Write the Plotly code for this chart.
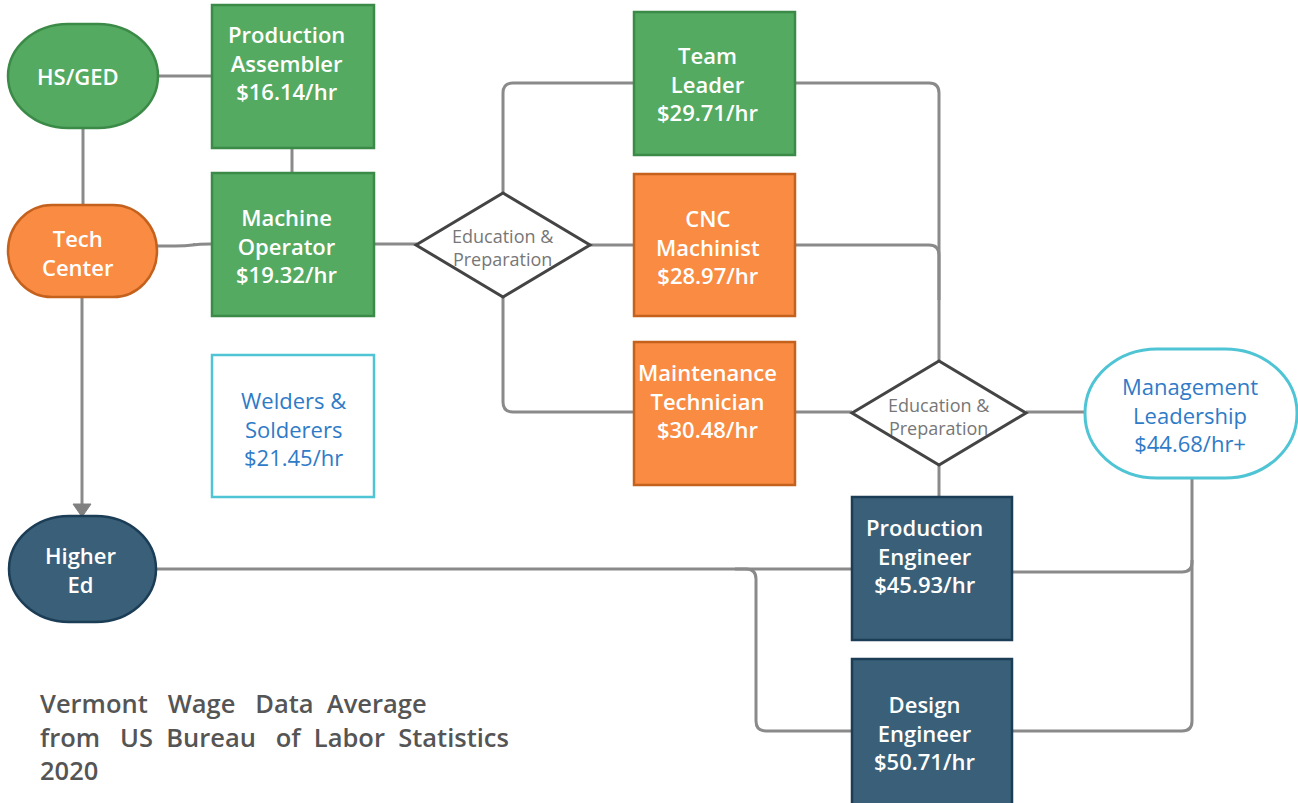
import plotly.graph_objects as go

# ---------------- data ----------------
roles = ["Production Assembler", "Machine Operator", "Welders & Solderers",
         "Team Leader", "CNC Machinist", "Maintenance Technician",
         "Management Leadership", "Production Engineer", "Design Engineer"]
role_lines = [["Production", "Assembler"], ["Machine", "Operator"], ["Welders &", "Solderers"],
              ["Team", "Leader"], ["CNC", "Machinist"], ["Maintenance", "Technician"],
              ["Management", "Leadership"], ["Production", "Engineer"], ["Design", "Engineer"]]
wages = ["$16.14/hr", "$19.32/hr", "$21.45/hr", "$29.71/hr", "$28.97/hr",
         "$30.48/hr", "$44.68/hr+", "$45.93/hr", "$50.71/hr"]
education = ["HS/GED", "Tech<br>Center", "Higher<br>Ed"]
decision_label = "Education &<br>Preparation"
NB = "\u00a0"
note_lines = [f"Vermont{NB*3}Wage{NB*3}Data{NB*2}Average",
              f"from{NB*3}US{NB*2}Bureau{NB*3}of{NB*2}Labor{NB*2}Statistics",
              "2020"]

# ---------------- layout geometry / styles ----------------
W, H = 1298, 803
GREEN, GREEN_B = "#55aa62", "#3b8a47"
ORANGE, ORANGE_B = "#f98b43", "#c4611d"
NAVY, NAVY_B = "#396078", "#1c3d56"
CYAN, BLUE_T = "#4fc4d4", "#2f7bc7"
LINE = "#8a8a8a"
FONT = "Open Sans"

# role boxes: (x0, y0, x1, y1, fill, border, text colour, text cx, text cy)
role_geo = [
    (212, 5, 374, 148, GREEN, GREEN_B, "white", 286, 62),
    (212, 173, 374, 316, GREEN, GREEN_B, "white", 286, 245),
    (212, 355, 374, 497, "white", CYAN, BLUE_T, 293, 428),
    (634, 12, 795, 155, GREEN, GREEN_B, "white", 707, 83),
    (634, 174, 795, 316, ORANGE, ORANGE_B, "white", 708, 246),
    (634, 342, 795, 485, ORANGE, ORANGE_B, "white", 707, 400),
    (1085, 349, 1297, 478, "white", CYAN, BLUE_T, 1190, 414),
    (852, 497, 1012, 640, NAVY, NAVY_B, "white", 924, 555),
    (852, 659, 1012, 806, NAVY, NAVY_B, "white", 924, 732),
]
role_round = [0, 0, 0, 0, 0, 0, (72, 64), 0, 0]

# education nodes: (x0, y0, x1, y1, rx, ry, fill, border, text cx, text cy)
edu_geo = [
    (8, 24, 158, 128, 60, 52, GREEN, GREEN_B, 78, 76),
    (8, 205, 157, 297, 44, 46, ORANGE, ORANGE_B, 78, 252),
    (9, 516, 156, 622, 60, 53, NAVY, NAVY_B, 81, 569),
]

# decision diamonds: (cx, cy, half-width, half-height, text cx, text cy)
diamond_geo = [(503, 245, 87, 52, 503, 247), (939, 413, 87, 52, 939, 416)]

K = 0.5523


def rrect(x0, y0, x1, y1, rx, ry):
    return (f"M {x0+rx},{y0} L {x1-rx},{y0} "
            f"C {x1-rx+K*rx},{y0} {x1},{y0+ry-K*ry} {x1},{y0+ry} "
            f"L {x1},{y1-ry} "
            f"C {x1},{y1-ry+K*ry} {x1-rx+K*rx},{y1} {x1-rx},{y1} "
            f"L {x0+rx},{y1} "
            f"C {x0+rx-K*rx},{y1} {x0},{y1-ry+K*ry} {x0},{y1-ry} "
            f"L {x0},{y0+ry} "
            f"C {x0},{y0+ry-K*ry} {x0+rx-K*rx},{y0} {x0+rx},{y0} Z")


def rpoly(pts, r=10):
    s = f"M {pts[0][0]},{pts[0][1]}"
    for i in range(1, len(pts) - 1):
        px, py = pts[i]
        ax, ay = pts[i - 1]
        bx, by = pts[i + 1]
        da = ((ax - px) ** 2 + (ay - py) ** 2) ** 0.5
        db = ((bx - px) ** 2 + (by - py) ** 2) ** 0.5
        p1 = (px + (ax - px) * r / da, py + (ay - py) * r / da)
        p2 = (px + (bx - px) * r / db, py + (by - py) * r / db)
        s += f" L {p1[0]:.1f},{p1[1]:.1f} Q {px},{py} {p2[0]:.1f},{p2[1]:.1f}"
    s += f" L {pts[-1][0]},{pts[-1][1]}"
    return s


# connectors (polylines)
connectors = [
    [(158, 76), (212, 76)],
    [(83, 128), (83, 205)],
    [(292, 148), (292, 173)],
    [(157, 246), (185, 246), (200, 244), (212, 244)],
    [(82, 297), (82, 506)],
    [(374, 244), (417, 244)],
    [(503, 193), (503, 83), (634, 83)],
    [(590, 245), (634, 245)],
    [(503, 297), (503, 412), (634, 412)],
    [(795, 83), (939, 83), (939, 362)],
    [(795, 245), (939, 245), (939, 300)],
    [(795, 412), (852, 412)],
    [(1026, 412), (1085, 412)],
    [(939, 465), (939, 497)],
    [(156, 569), (852, 569)],
    [(735, 569), (756, 569), (756, 731), (852, 731)],
    [(1012, 572), (1192, 572), (1192, 478)],
    [(1012, 731), (1192, 731), (1192, 560)],
]

fig = go.Figure()
# invisible anchor trace so axes exist
fig.add_trace(go.Scatter(x=[0, W], y=[0, H], mode="markers",
                         marker=dict(opacity=0), hoverinfo="skip", showlegend=False))

shapes = []
for pts in connectors:
    shapes.append(dict(type="path", path=rpoly(pts), xref="x", yref="y",
                       line=dict(color=LINE, width=3), layer="below"))
# arrow head into Higher Ed
shapes.append(dict(type="path", path="M 73,504 L 91,504 L 82,517 Z", xref="x", yref="y",
                   fillcolor="#808080", line=dict(color="#808080", width=1)))

for (x0, y0, x1, y1, fill, border, tc, tx, ty), rr in zip(role_geo, role_round):
    if rr:
        shapes.append(dict(type="path", path=rrect(x0, y0, x1, y1, rr[0], rr[1]),
                           xref="x", yref="y", fillcolor=fill, line=dict(color=border, width=3)))
    else:
        shapes.append(dict(type="rect", x0=x0, x1=x1, y0=y0, y1=y1, xref="x", yref="y",
                           fillcolor=fill, line=dict(color=border, width=2.5)))

for (x0, y0, x1, y1, rx, ry, fill, border, tx, ty) in edu_geo:
    shapes.append(dict(type="path", path=rrect(x0, y0, x1, y1, rx, ry), xref="x", yref="y",
                       fillcolor=fill, line=dict(color=border, width=2.5)))

for (cx, cy, hw, hh, tx, ty) in diamond_geo:
    shapes.append(dict(type="path",
                       path=f"M {cx-hw},{cy} L {cx},{cy-hh} L {cx+hw},{cy} L {cx},{cy+hh} Z",
                       xref="x", yref="y", fillcolor="white", line=dict(color="#444444", width=3)))

annotations = []
for lines, wage, g in zip(role_lines, wages, role_geo):
    tc, tx, ty = g[6], g[7], g[8]
    weight = 600 if tc == "white" else 400
    annotations.append(dict(x=tx, y=ty, xref="x", yref="y", showarrow=False,
                            text="<br>".join(lines + [wage]),
                            font=dict(family=FONT, size=22, color=tc, weight=weight),
                            align="center", xanchor="center", yanchor="middle"))

for label, g in zip(education, edu_geo):
    annotations.append(dict(x=g[8], y=g[9], xref="x", yref="y", showarrow=False, text=label,
                            font=dict(family=FONT, size=22, color="white", weight=600),
                            align="center", xanchor="center", yanchor="middle"))

for (cx, cy, hw, hh, tx, ty) in diamond_geo:
    annotations.append(dict(x=tx, y=ty, xref="x", yref="y", showarrow=False,
                            text=decision_label,
                            font=dict(family=FONT, size=18, color="#777777"),
                            align="center", xanchor="center", yanchor="middle"))

for i, line in enumerate(note_lines):
    annotations.append(dict(x=38, y=703 + i * 33.5, xref="x", yref="y", showarrow=False,
                            text=line, font=dict(family=FONT, size=25.5, color="#555555", weight=600),
                            align="left", xanchor="left", yanchor="middle"))

fig.update_layout(
    width=W, height=H, margin=dict(l=0, r=0, t=0, b=0),
    paper_bgcolor="white", plot_bgcolor="white",
    xaxis=dict(range=[0, W], visible=False, fixedrange=True),
    yaxis=dict(range=[H, 0], visible=False, fixedrange=True),
    shapes=shapes, annotations=annotations, showlegend=False,
)

fig.write_html("out.html", config={"displayModeBar": False},
               post_script="document.body.style.margin='0';document.body.style.overflow='hidden';")
